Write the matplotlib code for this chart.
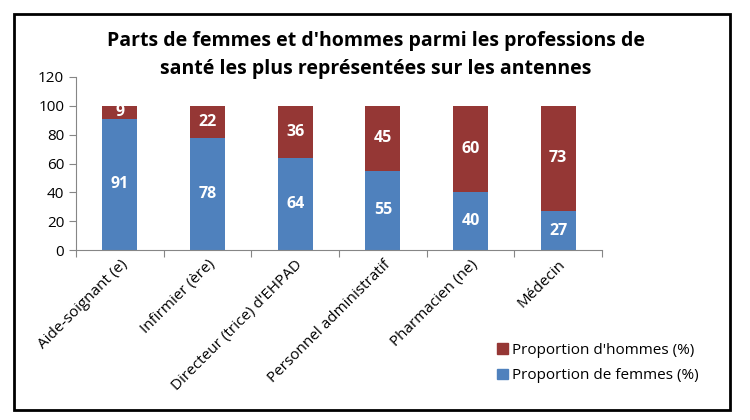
import matplotlib
matplotlib.use("Agg")
import matplotlib.pyplot as plt
from matplotlib.patches import Rectangle, Patch

plt.rcParams['font.family'] = ['Open Sans', 'DejaVu Sans']

categories = ["Aide-soignant (e)", "Infirmier (ère)", "Directeur (trice) d'EHPAD",
              "Personnel administratif", "Pharmacien (ne)", "Médecin"]
femmes = [91, 78, 64, 55, 40, 27]
hommes = [9, 22, 36, 45, 60, 73]
yticks = [0, 20, 40, 60, 80, 100, 120]

blue = "#4F81BD"
red = "#953735"

fig = plt.figure(figsize=(7.5, 4.2), dpi=100)
fig.patches.append(Rectangle((14/750, 1-410/420), 716/750, 396/420, transform=fig.transFigure,
                             fill=False, edgecolor="black", linewidth=2))
ax = fig.add_axes([76/750, 1-250/420, 526/750, 173/420])
x = range(len(categories))
ax.bar(x, femmes, width=0.4, color=blue)
ax.bar(x, hommes, bottom=femmes, width=0.4, color=red)
for i in x:
    ax.text(i, femmes[i]/2, str(femmes[i]), ha='center', va='center', color='white',
            fontweight='bold', fontsize=11.5)
    ax.text(i, femmes[i] + hommes[i]/2, str(hommes[i]), ha='center', va='center', color='white',
            fontweight='bold', fontsize=11.5)
ax.set_xlim(-0.5, len(categories)-0.5)
ax.set_ylim(0, 120)
ax.set_yticks(yticks)
ax.set_yticklabels([str(t) for t in yticks], fontsize=11)
ax.set_xticks([i - 0.5 for i in range(len(categories)+1)])
ax.set_xticklabels([])
ax.set_xticks(list(x), minor=True)
ax.set_xticklabels(categories, minor=True, rotation=45, ha='right', rotation_mode='anchor', fontsize=11)
ax.tick_params(axis='x', which='minor', length=0, pad=5)
ax.tick_params(axis='x', which='major', length=5, color='#868686', direction='out')
ax.tick_params(axis='y', length=5, color='#868686')
for s in ['top', 'right']:
    ax.spines[s].set_visible(False)
for s in ['left', 'bottom']:
    ax.spines[s].set_color('#868686')

fig.text(376/750, 1-41/420, "Parts de femmes et d'hommes parmi les professions de", ha='center', va='center',
         fontsize=14, fontweight='bold')
fig.text(376/750, 1-69/420, "santé les plus représentées sur les antennes", ha='center', va='center',
         fontsize=14, fontweight='bold')

handles = [Patch(color=red, label="Proportion d'hommes (%)"), Patch(color=blue, label="Proportion de femmes (%)")]
fig.legend(handles=handles, loc='center', bbox_to_anchor=(598/750, 1-363/420), frameon=False,
           fontsize=11, handlelength=0.7, handleheight=0.7, handletextpad=0.3, labelspacing=0.7)

fig.savefig("out.png", dpi=100)
